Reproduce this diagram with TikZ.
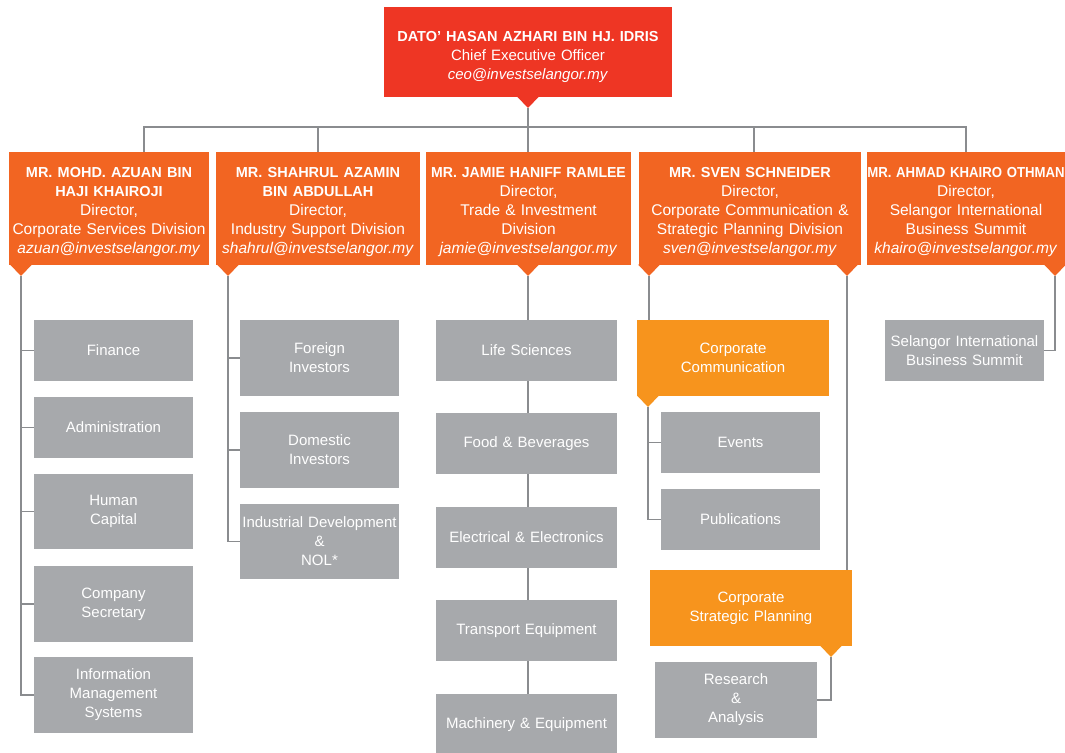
\documentclass[tikz,border=0pt]{standalone}
\usepackage{fontspec}
\setmainfont{Liberation Sans}
\definecolor{ceored}{RGB}{238,54,36}
\definecolor{dirorange}{RGB}{242,101,34}
\definecolor{headorange}{RGB}{247,148,29}
\definecolor{unitgray}{RGB}{167,169,172}
\definecolor{linegray}{RGB}{138,140,143}
% small pointer under a box: colour, name of tip, tip position
\newcommand{\notch}[3]{%
  \coordinate (#2) at (#3);
  \fill[#1] (#2) -- ++(-11pt,11.5pt) -- ++(22pt,0pt) -- cycle;}
\newcommand{\dname}[1]{{\fontsize{14.5}{19}\selectfont\bfseries #1}}
\begin{document}
\begin{tikzpicture}[x=1pt,y=-1pt,
  box/.style={inner sep=0pt,align=center,text=white,font=\fontsize{15}{19}\selectfont},
  wh/.style 2 args={minimum width=#1pt,minimum height=#2pt,text width=#1pt},
  textdrop/.style={execute at begin node={\rule{0pt}{#1}}},
  ceobox/.style={box,fill=ceored,textdrop=20pt},
  dirbox/.style={box,fill=dirorange,textdrop=18pt,font=\fontsize{15.5}{19}\selectfont},
  headbox/.style={box,fill=headorange},
  unitbox/.style={box,fill=unitgray},
  link/.style={draw=linegray,line width=1.4pt}]
  \useasboundingbox (0,0) rectangle (1065,752);
  % CEO
  \node[ceobox,wh={288}{90}] (ceo) at (528,52) {\dname{DATO’ HASAN AZHARI BIN HJ. IDRIS}\\Chief Executive Officer\\\textit{ceo@investselangor.my}};
  \notch{ceored}{ceo-t}{528,108}
  % directors
  \node[dirbox,wh={200}{113}] (azuan) at (109,208.5) {\dname{MR. MOHD. AZUAN BIN}\\\dname{HAJI KHAIROJI}\\Director,\\Corporate Services Division\\\textit{azuan@investselangor.my}};
  \node[dirbox,wh={204}{113}] (shahrul) at (318,208.5) {\dname{MR. SHAHRUL AZAMIN}\\\dname{BIN ABDULLAH}\\Director,\\Industry Support Division\\\textit{shahrul@investselangor.my}};
  \node[dirbox,wh={205}{113}] (jamie) at (528.5,208.5) {\scalebox{0.97}[1]{\dname{MR. JAMIE HANIFF RAMLEE}}\\Director,\\Trade \& Investment\\Division\\\textit{jamie@investselangor.my}};
  \node[dirbox,wh={222}{113}] (sven) at (750,208.5) {\dname{MR. SVEN SCHNEIDER}\\Director,\\Corporate Communication \&\\Strategic Planning Division\\\textit{sven@investselangor.my}};
  \node[dirbox,wh={198}{113}] (khairo) at (966,208.5) {\scalebox{0.91}[1]{\dname{MR. AHMAD KHAIRO OTHMAN}}\\Director,\\Selangor International\\Business Summit\\\textit{khairo@investselangor.my}};
  \notch{dirorange}{azuan-t}{21,276}
  \notch{dirorange}{shahrul-t}{228,276}
  \notch{dirorange}{jamie-t}{528,276}
  \notch{dirorange}{sven-l}{649,276}
  \notch{dirorange}{sven-r}{847,276}
  \notch{dirorange}{khairo-t}{1055,276}
  % CEO to directors
  \coordinate (bus) at (528,127);
  \draw[link] (ceo-t) -- (jamie.north -| ceo-t);
  \draw[link] (bus) -| ([xshift=35pt]azuan.north);
  \draw[link] (bus) -| (shahrul.north);
  \draw[link] (bus) -| ([xshift=4pt]sven.north);
  \draw[link] (bus) -| (khairo.north);
  % Corporate Services
  \node[unitbox,wh={159}{61}] (fin) at (113.5,350.5) {Finance};
  \node[unitbox,wh={159}{61}] (adm) at (113.5,427.5) {Administration};
  \node[unitbox,wh={159}{75}] (hc) at (113.5,511.5) {Human\\Capital};
  \node[unitbox,wh={159}{76}] (cs) at (113.5,604) {Company\\Secretary};
  \node[unitbox,wh={159}{76}] (ims) at (113.5,695) {Information\\Management\\Systems};
  \draw[link] (azuan-t) |- (ims.west);
  \foreach \u in {fin,adm,hc,cs}
    \draw[link] (\u.west) -- (\u.west -| azuan-t);
  % Industry Support
  \node[unitbox,wh={159}{76}] (fi) at (319.5,358) {Foreign\\Investors};
  \node[unitbox,wh={159}{76}] (di) at (319.5,450) {Domestic\\Investors};
  \node[unitbox,wh={159}{75}] (idn) at (319.5,541.5) {Industrial Development\\\&\\NOL*};
  \draw[link] (shahrul-t) |- (idn.west);
  \foreach \u in {fi,di}
    \draw[link] (\u.west) -- (\u.west -| shahrul-t);
  % Trade & Investment
  \node[unitbox,wh={181}{61}] (life) at (526.5,350.5) {Life Sciences};
  \node[unitbox,wh={181}{61}] (food) at (526.5,443.5) {Food \& Beverages};
  \node[unitbox,wh={181}{61}] (elec) at (526.5,537.5) {Electrical \& Electronics};
  \node[unitbox,wh={181}{61}] (trans) at (526.5,630.5) {Transport Equipment};
  \node[unitbox,wh={181}{61}] (mach) at (526.5,724.5) {Machinery \& Equipment};
  \draw[link] (jamie-t) -- (life.north -| jamie-t);
  \foreach \a/\b in {life/food,food/elec,elec/trans,trans/mach}
    \draw[link] (\a.south -| jamie-t) -- (\b.north -| jamie-t);
  % Corporate Communication & Strategic Planning
  \node[headbox,wh={192}{76}] (cc) at (733,358) {Corporate\\Communication};
  \notch{headorange}{cc-t}{648,407}
  \node[unitbox,wh={159}{61}] (events) at (740.5,442.5) {Events};
  \node[unitbox,wh={159}{61}] (pub) at (740.5,519.5) {Publications};
  \node[headbox,wh={202}{76}] (csp) at (751,608) {Corporate\\Strategic Planning};
  \notch{headorange}{csp-t}{831,657}
  \node[unitbox,wh={162}{76}] (ra) at (736,700) {Research\\\&\\Analysis};
  \draw[link] (sven-l) -- (cc.north -| sven-l);
  \draw[link] (cc-t) |- (pub.west);
  \draw[link] (events.west) -- (events.west -| cc-t);
  \draw[link] (sven-r) -- (csp.north -| sven-r);
  \draw[link] (csp-t) |- (ra.east);
  % Selangor International Business Summit
  \node[unitbox,wh={159}{61}] (sibs) at (964.5,350.5) {Selangor International\\Business Summit};
  \draw[link] (khairo-t) |- (sibs.east);
\end{tikzpicture}
\end{document}
